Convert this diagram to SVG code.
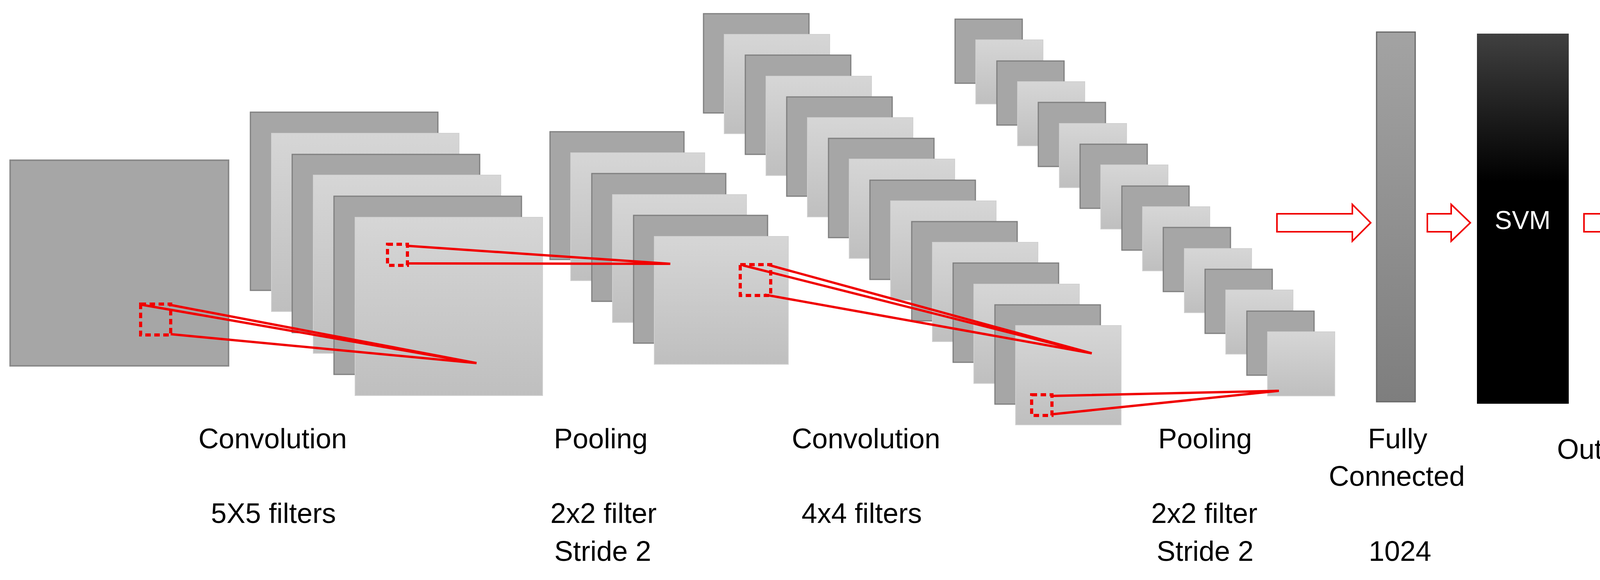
<svg xmlns="http://www.w3.org/2000/svg" width="4240" height="1484" viewBox="0 0 4240 1484">
<defs>
<linearGradient id="lg" x1="0" y1="0" x2="0" y2="1"><stop offset="0" stop-color="#d6d6d6"/><stop offset="1" stop-color="#bfbfbf"/></linearGradient>
<linearGradient id="fc" x1="0" y1="0" x2="0" y2="1"><stop offset="0" stop-color="#a3a3a3"/><stop offset="1" stop-color="#7e7e7e"/></linearGradient>
<linearGradient id="svm" x1="0" y1="0" x2="0" y2="1"><stop offset="0" stop-color="#404040"/><stop offset="0.4" stop-color="#000"/><stop offset="1" stop-color="#000"/></linearGradient>
</defs>
<style>
.d{fill:#a6a6a6;stroke:#7f7f7f;stroke-width:3}
.l{fill:url(#lg);stroke:#d0d0d0;stroke-width:2}
.r{stroke:#f00000;stroke-width:6;fill:none}
.b{stroke:#f00000;stroke-width:8;fill:none;stroke-dasharray:14 9}
.a{fill:#fff;stroke:#f00000;stroke-width:4}
text{font-family:"Liberation Sans",Arial,sans-serif;font-size:72px;fill:#000;text-anchor:middle}
</style>
<g id="input"><rect x="26" y="410" width="559" height="526" fill="#a6a6a6" stroke="#8a8a8a" stroke-width="4"/></g>
<g id="conv1">
<rect class="d" x="641" y="287" width="480" height="456"/>
<rect class="l" x="695" y="341" width="480" height="456"/>
<rect class="d" x="748" y="395" width="480" height="456"/>
<rect class="l" x="802" y="448" width="480" height="456"/>
<rect class="d" x="855" y="502" width="480" height="456"/>
<rect class="l" x="909" y="556" width="480" height="456"/>
</g>
<g id="pool1">
<rect class="d" x="1408" y="337" width="343" height="327"/>
<rect class="l" x="1461" y="391" width="343" height="327"/>
<rect class="d" x="1515" y="444" width="343" height="327"/>
<rect class="l" x="1568" y="498" width="343" height="327"/>
<rect class="d" x="1622" y="551" width="343" height="327"/>
<rect class="l" x="1675" y="605" width="343" height="327"/>
</g>
<g id="conv2">
<rect class="d" x="1801" y="35" width="270" height="254"/>
<rect class="l" x="1854" y="88" width="270" height="254"/>
<rect class="d" x="1908" y="141" width="270" height="254"/>
<rect class="l" x="1961" y="195" width="270" height="254"/>
<rect class="d" x="2014" y="248" width="270" height="254"/>
<rect class="l" x="2067" y="301" width="270" height="254"/>
<rect class="d" x="2121" y="354" width="270" height="254"/>
<rect class="l" x="2174" y="407" width="270" height="254"/>
<rect class="d" x="2227" y="461" width="270" height="254"/>
<rect class="l" x="2280" y="514" width="270" height="254"/>
<rect class="d" x="2334" y="567" width="270" height="254"/>
<rect class="l" x="2387" y="620" width="270" height="254"/>
<rect class="d" x="2440" y="673" width="270" height="254"/>
<rect class="l" x="2493" y="727" width="270" height="254"/>
<rect class="d" x="2547" y="780" width="270" height="254"/>
<rect class="l" x="2600" y="833" width="270" height="254"/>
</g>
<g id="pool2">
<rect class="d" x="2445" y="49" width="172" height="164"/>
<rect class="l" x="2498" y="102" width="172" height="164"/>
<rect class="d" x="2552" y="156" width="172" height="164"/>
<rect class="l" x="2605" y="209" width="172" height="164"/>
<rect class="d" x="2658" y="262" width="172" height="164"/>
<rect class="l" x="2712" y="316" width="172" height="164"/>
<rect class="d" x="2765" y="369" width="172" height="164"/>
<rect class="l" x="2818" y="422" width="172" height="164"/>
<rect class="d" x="2872" y="476" width="172" height="164"/>
<rect class="l" x="2925" y="529" width="172" height="164"/>
<rect class="d" x="2978" y="582" width="172" height="164"/>
<rect class="l" x="3032" y="636" width="172" height="164"/>
<rect class="d" x="3085" y="689" width="172" height="164"/>
<rect class="l" x="3138" y="742" width="172" height="164"/>
<rect class="d" x="3192" y="796" width="172" height="164"/>
<rect class="l" x="3245" y="849" width="172" height="164"/>
</g>
<g id="fc"><rect x="3524" y="82" width="99" height="946" fill="url(#fc)" stroke="#666" stroke-width="3"/></g>
<g id="svm"><rect x="3781" y="86" width="235" height="947" fill="url(#svm)"/><text x="3898" y="586" style="fill:#fff;font-size:66px">SVM</text></g>
<g id="connectors">
<rect class="b" x="360" y="778" width="77" height="79"/>
<path class="r" d="M364 780L1220 929M430 779L1220 929M437 855L1220 929"/>
<rect class="b" x="992" y="625" width="51" height="54"/>
<path class="r" d="M1043 629L1716 675M1043 674L1716 675"/>
<rect class="b" x="1895" y="677" width="78" height="79"/>
<path class="r" d="M1902 679L2795 904M1968 678L2795 904M1958 754L2795 904"/>
<rect class="b" x="2641" y="1010" width="52" height="53"/>
<path class="r" d="M2693 1013L3274 1000M2693 1060L3274 1000"/>
<polygon class="a" points="3269,547 3462,547 3462,523 3509,570 3462,617 3462,593 3269,593"/>
<polygon class="a" points="3654,547 3715,547 3715,523 3764,570 3715,617 3715,593 3654,593"/>
<polygon class="a" points="4055,547 4117,547 4117,523 4163,570 4117,617 4117,593 4055,593"/>
</g>
<g id="labels">
<text x="698" y="1147">Convolution</text>
<text x="700" y="1338">5X5 filters</text>
<text x="1538" y="1147">Pooling</text>
<text x="1545" y="1338">2x2 filter</text>
<text x="1543" y="1435">Stride 2</text>
<text x="2217" y="1147">Convolution</text>
<text x="2206" y="1338">4x4 filters</text>
<text x="3085" y="1147">Pooling</text>
<text x="3083" y="1338">2x2 filter</text>
<text x="3085" y="1435">Stride 2</text>
<text x="3578" y="1147">Fully</text>
<text x="3576" y="1243">Connected</text>
<text x="3584" y="1435">1024</text>
<text x="4094" y="1174">Output</text>
</g>
</svg>
